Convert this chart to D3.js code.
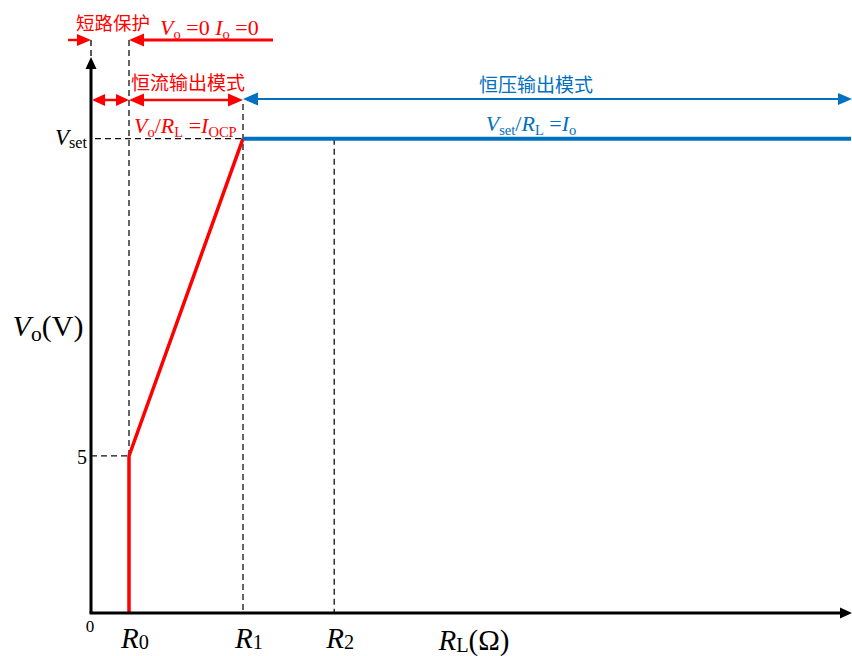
<!DOCTYPE html>
<html>
<head>
<meta charset="utf-8">
<script src="https://cdn.jsdelivr.net/npm/d3@7"></script>
<style>
  html, body { margin: 0; padding: 0; background: #fff; }
  svg { display: block; }
  .lat { font-family: "Liberation Serif", "Times New Roman", serif; }
  .cjk { font-family: "Noto Sans CJK SC", sans-serif; }
</style>
</head>
<body>
<svg id="chart" width="852" height="656"></svg>
<script>
// Output voltage vs load resistance for a CC/CV supply with short-circuit protection
const rNames = ["R0", "R1", "R2"];
const rValues = [1, 4, 6.4];          // load resistance break points (arbitrary units)
const vTicks = ["5", "Vset"];
const vTickValues = [5, 15.1];
const vSet = 15.1;
const rMax = 20;                      // end of the resistance axis
const vMax = 17.7;                    // end of the voltage axis
// constant-current segment (short-circuit edge, then V = I_OCP * R)
const ccR = [1, 1, 4];
const ccV = [0, 5, 15.1];
// constant-voltage segment
const cvR = [4, 20];
const cvV = [15.1, 15.1];
const modeNames = ["短路保护", "恒流输出模式", "恒压输出模式"];

const RED = "#ff0000", BLUE = "#0070c0";
const svg = d3.select("#chart");
const x = d3.scaleLinear().domain([0, rMax]).range([91, 851]);
const y = d3.scaleLinear().domain([0, vMax]).range([613, 57]);
const [R0, R1, R2] = rValues;

function head(px, py, dir, color, len, wid) {
  // filled triangle, tip at (px,py), dir: "r","l","u"
  let pts;
  if (dir === "r") pts = [[px, py], [px - len, py - wid / 2], [px - len, py + wid / 2]];
  else if (dir === "l") pts = [[px, py], [px + len, py - wid / 2], [px + len, py + wid / 2]];
  else pts = [[px, py], [px - wid / 2, py + len], [px + wid / 2, py + len]];
  svg.append("path").attr("d", d3.line()(pts) + "Z").attr("fill", color);
}
function seg(x1, y1, x2, y2, color, w, dash) {
  svg.append("line").attr("x1", x1).attr("y1", y1).attr("x2", x2).attr("y2", y2)
    .attr("stroke", color).attr("stroke-width", w)
    .attr("stroke-dasharray", dash || null);
}
// text with optional subscript parts: [[text, style]] style: "i" italic, "s" subscript, "n" normal
function rich(tx, ty, parts, size, color, anchor, drop, subScale) {
  const dropPx = drop === undefined ? size * 0.2 : drop;
  const sc = subScale || 0.66;
  const t = svg.append("text").attr("class", "lat").attr("x", tx).attr("y", ty)
    .attr("font-size", size).attr("fill", color).attr("text-anchor", anchor || "start");
  let lowered = false;
  parts.forEach(([s, st]) => {
    const sp = t.append("tspan").text(s);
    if (st.includes("i")) sp.attr("font-style", "italic");
    if (st.includes("s")) {
      sp.attr("font-size", size * sc);
      if (!lowered) { sp.attr("dy", dropPx); lowered = true; }
    } else if (lowered) { sp.attr("dy", -dropPx); lowered = false; }
  });
  return t;
}
const DASH = "6,4";

// dashed guides
seg(x(0), 40, x(0), y(vMax), "#000", 1.3, DASH);
seg(x(R0), 40, x(R0), y(5), "#111", 1.3, DASH);
seg(x(0), y(5), x(R0), y(5), "#111", 1.3, DASH);
seg(x(0) + 4, y(vSet), x(R1), y(vSet), "#111", 1.3, DASH);
seg(x(R1), 104, x(R1), y(0), "#111", 1.3, DASH);
seg(x(R2), y(vSet), x(R2), y(0), "#111", 1.3, DASH);

// curves
const line = d3.line().x(d => x(d[0])).y(d => y(d[1]));
svg.append("path").attr("d", line(ccR.map((r, i) => [r, ccV[i]])))
  .attr("fill", "none").attr("stroke", RED).attr("stroke-width", 3.5).attr("stroke-linejoin", "miter");
svg.append("path").attr("d", line(cvR.map((r, i) => [r, cvV[i]])))
  .attr("fill", "none").attr("stroke", BLUE).attr("stroke-width", 4);

// axes
seg(x(0), y(0), x(0), y(vMax) + 10, "#000", 3);
head(x(0), y(vMax), "u", "#000", 12, 11);
seg(x(0) - 1.5, y(0), x(rMax) - 10, y(0), "#000", 3);
head(x(rMax) + 1, y(0), "r", "#000", 12, 11);

// mode range arrows
const ay1 = 40, ay2 = 100;
seg(68, ay1, x(0) - 12, ay1, RED, 2.5);
head(x(0), ay1, "r", RED, 14, 12);
seg(x(R0) + 12, ay1, 273, ay1, RED, 3);
head(x(R0), ay1, "l", RED, 15, 13);

seg(x(0) + 10, ay2, x(R0) - 10, ay2, RED, 2.5);
head(x(0) + 1, ay2, "l", RED, 13, 12);
head(x(R0), ay2, "r", RED, 13, 12);
seg(x(R0) + 10, ay2, x(R1) - 10, ay2, RED, 2.5);
head(x(R0), ay2, "l", RED, 15, 13);
head(x(R1), ay2, "r", RED, 15, 13);

seg(x(R1) + 12, ay2 - 1, x(rMax) - 10, ay2 - 1, BLUE, 2);
head(x(R1), ay2 - 1, "l", BLUE, 15, 13);
head(x(rMax) + 1, ay2 - 1, "r", BLUE, 14, 12);

// mode labels
svg.append("text").attr("class", "cjk").attr("x", 76).attr("y", 30)
  .attr("font-size", 18.5).attr("fill", RED).text(modeNames[0]);
svg.append("text").attr("class", "cjk").attr("x", x(R0) + 2).attr("y", 90)
  .attr("font-size", 19).attr("fill", RED).text(modeNames[1]);
svg.append("text").attr("class", "cjk").attr("x", 536).attr("y", 92)
  .attr("font-size", 19).attr("fill", BLUE).attr("text-anchor", "middle").text(modeNames[2]);

rich(160, 35, [["V", "i"], ["o", "s"], [" =0 ", "n"], ["I", "i"], ["o", "s"], [" =0", "n"]], 22, RED);
rich(134, 133, [["V", "i"], ["o", "s"], ["/", "n"], ["R", "i"], ["L", "s"], [" =", "n"], ["I", "i"], ["OCP", "s"]], 22, RED);
rich(531, 131, [["V", "i"], ["set", "s"], ["/", "n"], ["R", "i"], ["L", "s"], [" =", "n"], ["I", "i"], ["o", "s"]], 22, BLUE, "middle");

// y tick labels
rich(x(0) - 4, y(vTickValues[0]) + 8, [[vTicks[0], "n"]], 20, "#000", "end");
rich(x(0) - 4, y(vTickValues[1]) + 6, [["V", "i"], ["set", "s"]], 23, "#000", "end", 3, 0.7);
rich(x(0) - 1, 632, [["0", "n"]], 17, "#000", "middle");

// x tick labels
rNames.forEach((n, i) => {
  rich(x(rValues[i]) + 6, 648, [["R", "i"], [n.slice(1), "s"]], 29, "#000", "middle", 1, 0.7);
});

// axis titles
rich(474, 650, [["R", "i"], ["L", "s"], ["(Ω)", "n"]], 29, "#000", "middle", 2, 0.7);
rich(48, 336, [["V", "i"], ["o", "s"], ["(V)", "n"]], 30, "#000", "middle", 5, 0.72);
</script>
</body>
</html>
